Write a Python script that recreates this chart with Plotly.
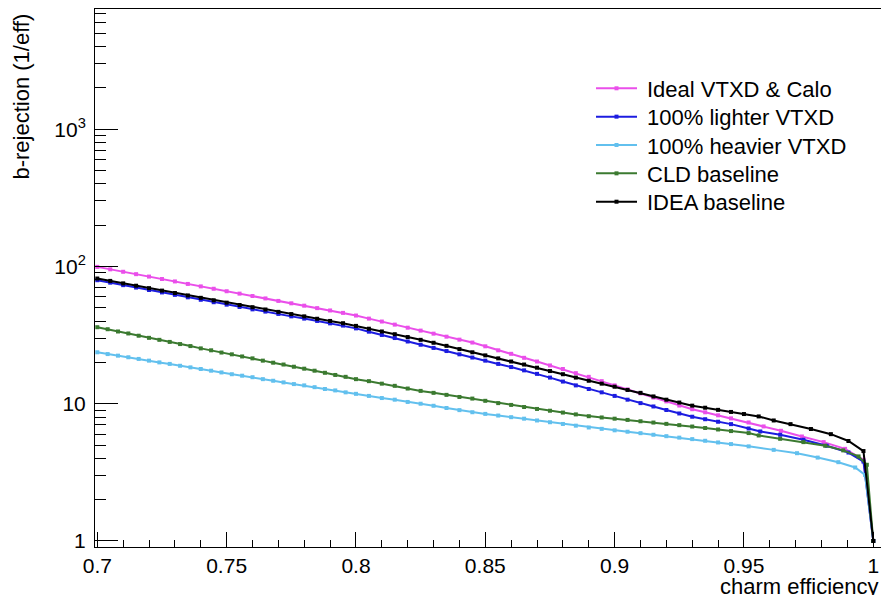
import plotly.graph_objects as go

# charm-efficiency working points
eff_main = [0.700, 0.705, 0.710, 0.715, 0.720, 0.725, 0.730, 0.735, 0.740, 0.745,
            0.750, 0.755, 0.760, 0.765, 0.770, 0.775, 0.780, 0.785, 0.790, 0.795,
            0.800, 0.805, 0.810, 0.815, 0.820, 0.825, 0.830, 0.835, 0.840, 0.845,
            0.850, 0.855, 0.860, 0.865, 0.870, 0.875, 0.880, 0.885, 0.890, 0.895,
            0.900, 0.905, 0.910, 0.915, 0.920, 0.925, 0.930, 0.935, 0.940, 0.945]
eff_low = [0.700, 0.704, 0.708, 0.712, 0.716, 0.720, 0.724, 0.728, 0.732, 0.736,
           0.740, 0.744, 0.748, 0.752, 0.756, 0.760, 0.764, 0.768, 0.772, 0.776,
           0.780, 0.784, 0.788, 0.792, 0.796]
eff_mid = [0.800, 0.805, 0.810, 0.815, 0.820, 0.825, 0.830, 0.835, 0.840, 0.845,
           0.850, 0.855, 0.860, 0.865, 0.870, 0.875, 0.880, 0.885, 0.890, 0.895,
           0.900, 0.905, 0.910, 0.915, 0.920, 0.925, 0.930, 0.935, 0.940, 0.945]

# Ideal VTXD & Calo
ideal_eff = eff_main + [0.9518, 0.9576, 0.9643, 0.9724, 0.9808, 0.9891, 0.9962, 1.0]
ideal_rej = [99.3, 95.3, 91.5, 87.9, 84.4, 81.0, 77.8, 74.6, 71.6, 68.8,
             66.0, 63.4, 60.9, 58.5, 56.1, 53.9, 51.8, 49.7, 47.8, 45.9,
             43.9, 41.7, 39.7, 37.7, 35.8, 34.1, 32.4, 30.8, 29.3, 27.9,
             26.2, 24.5, 23.1, 21.6, 20.3, 19.0, 17.9, 16.7, 15.7, 14.6,
             13.6, 12.7, 11.9, 11.1, 10.4, 9.70, 9.12, 8.66, 8.23, 7.82,
             7.30, 6.83, 6.35, 5.77, 5.25, 4.69, 3.90, 1.0]

# 100% lighter VTXD
light_eff = eff_main + [0.9518, 0.9563, 0.964, 0.973, 0.982, 0.9904, 0.9962, 1.0]
light_rej = [79.4, 76.2, 73.1, 70.2, 67.4, 64.7, 62.1, 59.6, 57.2, 54.9,
             52.7, 50.7, 48.7, 46.9, 45.1, 43.3, 41.7, 40.1, 38.5, 37.1,
             35.4, 33.5, 31.7, 30.1, 28.4, 26.9, 25.5, 24.2, 22.9, 21.7,
             20.6, 19.5, 18.5, 17.5, 16.5, 15.5, 14.5, 13.6, 12.8, 12.1,
             11.4, 10.7, 10.1, 9.55, 9.00, 8.49, 8.04, 7.71, 7.39, 7.10,
             6.60, 6.28, 5.94, 5.46, 4.94, 4.41, 3.79, 1.0]

# 100% heavier VTXD
heavy_eff = eff_low + eff_mid + [0.9518, 0.9615, 0.9705, 0.9785, 0.9865, 0.993, 0.9968, 1.0]
heavy_rej = [23.7, 23.0, 22.4, 21.8, 21.2, 20.6, 20.0, 19.5, 18.9, 18.4,
             17.9, 17.4, 16.9, 16.4, 16.0, 15.6, 15.1, 14.7, 14.3, 13.9,
             13.6, 13.2, 12.8, 12.5, 12.1,
             11.8, 11.4, 11.0, 10.7, 10.3, 10.0, 9.66, 9.31, 8.98, 8.67,
             8.43, 8.20, 7.98, 7.78, 7.55, 7.33, 7.12, 6.92, 6.71, 6.56,
             6.40, 6.25, 6.10, 5.94, 5.80, 5.66, 5.52, 5.37, 5.22, 5.08,
             4.89, 4.61, 4.36, 4.05, 3.75, 3.43, 3.03, 1.0]

# CLD baseline
cld_eff = eff_low + eff_mid + [0.9518, 0.9557, 0.964, 0.973, 0.9814, 0.9884, 0.9943, 0.9975, 1.0]
cld_rej = [36.1, 34.9, 33.6, 32.5, 31.3, 30.2, 29.2, 28.2, 27.2, 26.3,
           25.3, 24.5, 23.6, 22.9, 22.1, 21.4, 20.6, 19.9, 19.3, 18.6,
           18.0, 17.4, 16.8, 16.2, 15.7,
           15.1, 14.6, 14.0, 13.5, 12.9, 12.4, 12.0, 11.6, 11.2, 10.9,
           10.5, 10.1, 9.80, 9.46, 9.16, 8.89, 8.62, 8.36, 8.11, 7.94,
           7.78, 7.62, 7.45, 7.29, 7.13, 6.98, 6.82, 6.65, 6.49, 6.32,
           6.11, 5.87, 5.55, 5.25, 4.94, 4.57, 4.13, 3.59, 1.0]

# IDEA baseline
idea_eff = eff_main + [0.950, 0.9557, 0.9615, 0.968, 0.9759, 0.9836, 0.9904, 0.9962, 1.0]
idea_rej = [81.7, 78.5, 75.3, 72.4, 69.5, 66.7, 64.1, 61.5, 59.1, 56.7,
            54.5, 52.4, 50.5, 48.6, 46.7, 45.0, 43.3, 41.6, 40.1, 38.6,
            36.9, 35.2, 33.6, 32.1, 30.6, 29.2, 27.8, 26.4, 25.0, 23.7,
            22.5, 21.4, 20.3, 19.3, 18.3, 17.3, 16.4, 15.5, 14.7, 14.0,
            13.3, 12.6, 12.0, 11.3, 10.7, 10.2, 9.68, 9.35, 9.02, 8.71,
            8.41, 8.08, 7.55, 7.10, 6.54, 6.00, 5.35, 4.52, 1.0]

series_names = ["Ideal VTXD & Calo", "100% lighter VTXD", "100% heavier VTXD",
                "CLD baseline", "IDEA baseline"]
series_colors = ["#EA4FEA", "#1C1CE0", "#62C0EE", "#3B7A30", "#000000"]
series_eff = [ideal_eff, light_eff, heavy_eff, cld_eff, idea_eff]
series_rej = [ideal_rej, light_rej, heavy_rej, cld_rej, idea_rej]

x_major = [0.7, 0.75, 0.8, 0.85, 0.9, 0.95, 1.0]
x_major_text = ["0.7", "0.75", "0.8", "0.85", "0.9", "0.95", "1"]
x_minor = [0.71, 0.72, 0.73, 0.74, 0.76, 0.77, 0.78, 0.79, 0.81, 0.82, 0.83, 0.84,
           0.86, 0.87, 0.88, 0.89, 0.91, 0.92, 0.93, 0.94, 0.96, 0.97, 0.98, 0.99]
y_major = [1, 10, 100, 1000]
y_major_text = ["1", "10", "10<sup>2</sup>", "10<sup>3</sup>"]
y_minor = [m * d for d in (1, 10, 100, 1000) for m in range(2, 10)]

# figure geometry (pixels)
W, H = 881, 595
M_L, M_R, M_T, M_B = 95, 0, 9, 48
PW, PH = W - M_L - M_R, H - M_T - M_B


def px_x(p):
    return (p - M_L) / PW


def px_y(p):
    return (H - M_B - p) / PH


fig = go.Figure()
for name, xs, ys, col in zip(series_names, series_eff, series_rej, series_colors):
    fig.add_trace(go.Scatter(
        x=xs, y=ys, name=name, mode="lines+markers",
        line=dict(color=col, width=2),
        marker=dict(color=col, size=4, symbol="square"),
        showlegend=False,
    ))

font_family = "Liberation Sans, Arial, Helvetica, sans-serif"

# legend box drawn by hand: line sample with a marker, then the label
shapes = []
annotations = []
leg_top, leg_step = 88.3, 28.35
for i, (name, col) in enumerate(zip(series_names, series_colors)):
    yc = leg_top + i * leg_step
    shapes.append(dict(type="line", xref="paper", yref="paper",
                       x0=px_x(596), x1=px_x(637), y0=px_y(yc), y1=px_y(yc),
                       line=dict(color=col, width=2)))
    shapes.append(dict(type="rect", xref="paper", yref="paper",
                       x0=px_x(614.5), x1=px_x(618.5),
                       y0=px_y(yc + 2), y1=px_y(yc - 2),
                       line=dict(width=0), fillcolor=col))
    annotations.append(dict(text=name, xref="paper", yref="paper",
                            x=px_x(645), y=px_y(yc + 1), xanchor="left",
                            yanchor="middle", showarrow=False,
                            font=dict(size=22, family=font_family, color="black")))

annotations.append(dict(text="charm efficiency", xref="paper", yref="paper",
                        x=1.0, y=-0.046, xanchor="right", yanchor="top",
                        showarrow=False, font=dict(size=22, family=font_family)))
annotations.append(dict(text="b-rejection (1/eff)", xref="paper", yref="paper",
                        x=-0.093, y=0.995, xanchor="center", yanchor="top",
                        textangle=-90, showarrow=False,
                        font=dict(size=22, family=font_family)))

fig.update_layout(
    width=W, height=H,
    margin=dict(l=M_L, r=M_R, t=M_T, b=M_B),
    plot_bgcolor="white", paper_bgcolor="white",
    font=dict(family=font_family, size=21, color="black"),
    showlegend=False,
    xaxis=dict(
        range=[0.69911, 1.00298], showgrid=False, zeroline=False,
        showline=True, linecolor="black", linewidth=1, mirror=True,
        tickmode="array", tickvals=x_major, ticktext=x_major_text,
        ticks="inside", ticklen=15, tickwidth=1, tickcolor="black",
        minor=dict(tickmode="array", tickvals=x_minor, ticks="inside",
                   ticklen=7, tickwidth=1, tickcolor="black", showgrid=False),
    ),
    yaxis=dict(
        type="log", range=[-0.044, 3.876], showgrid=False, zeroline=False,
        showline=True, linecolor="black", linewidth=1,
        tickmode="array", tickvals=y_major, ticktext=y_major_text,
        ticks="inside", ticklen=23, tickwidth=1, tickcolor="black",
        ticklabelstandoff=4,
        minor=dict(tickmode="array", tickvals=y_minor, ticks="inside",
                   ticklen=11, tickwidth=1, tickcolor="black", showgrid=False),
    ),
    shapes=shapes,
    annotations=annotations,
)

fig.write_html("out.html")
